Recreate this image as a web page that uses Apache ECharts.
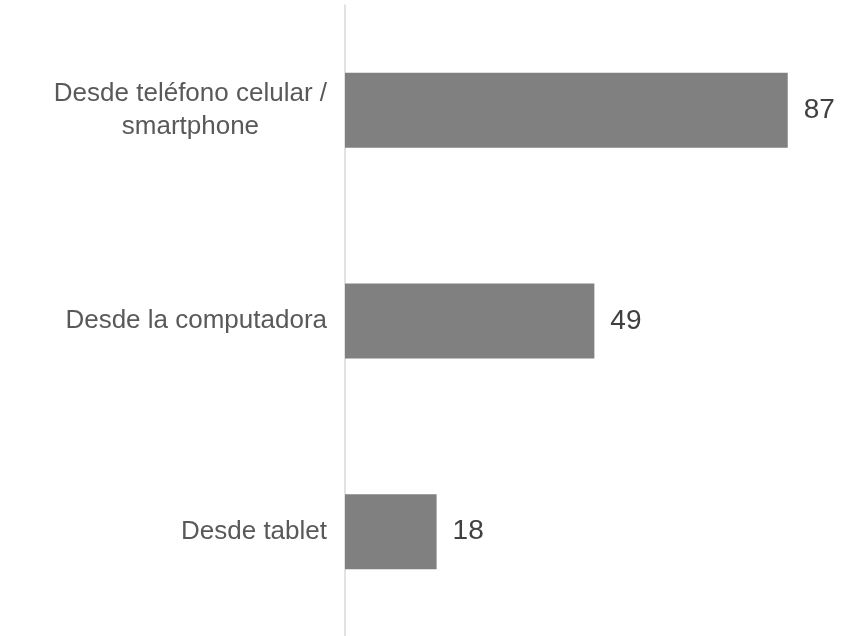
<!DOCTYPE html>
<html>
<head>
<meta charset="utf-8">
<script src="https://cdn.jsdelivr.net/npm/echarts@6/dist/echarts.min.js"></script>
<style>
html,body{margin:0;padding:0;background:#fff;}
#chart{width:848px;height:636px;}
</style>
</head>
<body>
<div id="chart"></div>
<script>
const categories = ['Desde teléfono celular / smartphone', 'Desde la computadora', 'Desde tablet'];
const values = [87, 49, 18];

const chart = echarts.init(document.getElementById('chart'), null, {renderer: 'canvas'});
chart.setOption({
  animation: false,
  backgroundColor: '#ffffff',
  grid: {left: 345, right: 45, top: 5, bottom: -1, containLabel: false, outerBoundsMode: 'none'},
  xAxis: {
    type: 'value', min: 0, max: 90,
    show: false
  },
  yAxis: {
    type: 'category',
    data: categories,
    inverse: true,
    axisLine: {show: true, lineStyle: {color: '#d9d9d9', width: 1.5}},
    axisTick: {show: false},
    axisLabel: {
      margin: 18,
      fontFamily: 'Liberation Sans, Arial, sans-serif',
      fontSize: 26,
      color: '#595959',
      lineHeight: 33,
      formatter: function (v) {
        if (v.indexOf(' / ') >= 0) {
          const parts = v.split(' / ');
          return '{a|' + parts[0] + ' /}\n{b|' + parts[1] + '}';
        }
        return '{a|' + v + '}';
      },
      rich: {
        a: {fontFamily: 'Liberation Sans, Arial, sans-serif', fontSize: 26, color: '#595959', lineHeight: 33},
        b: {fontFamily: 'Liberation Sans, Arial, sans-serif', fontSize: 26, color: '#595959', lineHeight: 33, align: 'center'}
      }
    }
  },
  series: [{
    type: 'bar',
    data: values,
    barWidth: 75,
    itemStyle: {color: '#808080'},
    label: {
      show: true,
      position: 'right',
      distance: 16,
      fontFamily: 'Liberation Sans, Arial, sans-serif',
      fontSize: 28,
      color: '#404040'
    }
  }]
});
</script>
</body>
</html>
